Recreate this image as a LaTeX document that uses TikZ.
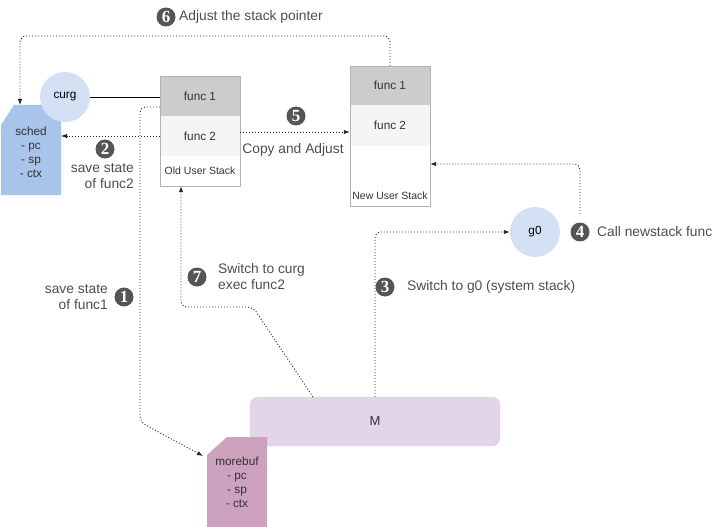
\documentclass[tikz,border=0pt]{standalone}
\usepackage{fontspec}
\setmainfont{Liberation Sans}
\newfontfamily\numfont{Liberation Serif}
\usetikzlibrary{arrows.meta}
\definecolor{schedfill}{HTML}{A9C4EB}
\definecolor{curgfill}{HTML}{D4E1F5}
\definecolor{mfill}{HTML}{E1D5E7}
\definecolor{morefill}{HTML}{CDA2BE}
\definecolor{numfill}{HTML}{555555}
\definecolor{lbl}{HTML}{4D4D4D}
\definecolor{dark}{HTML}{333333}
\definecolor{stk}{HTML}{B3B3B3}
\definecolor{rowa}{HTML}{CCCCCC}
\definecolor{rowb}{HTML}{F5F5F5}
\begin{document}
\begin{tikzpicture}[x=1pt,y=-1pt,
  conn/.style={draw=black!85, dash pattern=on 1pt off 2pt, line width=0.9pt, rounded corners=6pt, -{Latex[length=6pt,width=4.5pt]}},
  num/.style={circle, fill=numfill, text=white, inner sep=0pt, minimum size=19pt, font=\numfont\bfseries\fontsize{17}{17}\selectfont},
  lab/.style={text=lbl, font=\fontsize{13.8}{16}\selectfont, inner sep=0pt},
  row/.style={minimum width=80pt, minimum height=40pt, inner sep=0pt, text=dark, font=\fontsize{11.8}{13}\selectfont},
  circ/.style={circle, fill=curgfill, minimum size=50pt, inner sep=0pt, text=black, font=\fontsize{11.8}{13}\selectfont},
  cardtxt/.style={align=center, text=dark, font=\fontsize{11.8}{14}\selectfont, inner sep=0pt},
  small/.style={text=dark, font=\fontsize{10.5}{12}\selectfont, inner sep=0pt}
]
\useasboundingbox (0,0) rectangle (716,527);

% sched card
\fill[schedfill] (1,125) -- (14,105) -- (61,105) -- (61,195) -- (1,195) -- cycle;
\node[cardtxt] (sched) at (31,152) {sched\\- pc\\- sp\\- ctx};
\coordinate (schedtop) at (20,105);
\coordinate (schedeast) at (61,136);

% curg
\node[circ] (curg) at (65,97) {curg};

% old user stack
\node[row, fill=rowa] (oldf1) at (200,96) {func 1};
\node[row, fill=rowb] (oldf2) at (200,136) {func 2};
\node[row, minimum height=30pt] (oldlbl) at (200,171) {};
\node[small] (oldtxt) at (200,171) {Old User Stack};
\draw[stk] (oldf1.north west) rectangle (oldlbl.south east);

% new user stack
\node[row, fill=rowa, minimum height=39pt] (newf1) at (390,85.5) {func 1};
\node[row, fill=rowb, minimum height=41pt] (newf2) at (390,125.5) {func 2};
\node[row, minimum height=60pt] (newrest) at (390,176) {};
\node[small] (newlbl) at (390,196) {New User Stack};
\draw[stk] (newf1.north west) rectangle (newrest.south east);

% g0
\node[circ] (g0) at (535,232) {g0};

% M
\node[fill=mfill, draw=mfill!90!black!60, rounded corners=8pt, minimum width=250pt, minimum height=49pt, inner sep=0pt, text=dark, font=\fontsize{13}{15}\selectfont] (M) at (375,421.5) {M};

% morebuf card
\fill[morefill] (207,455) -- (227,437) -- (267,437) -- (267,527) -- (207,527) -- cycle;
\node[cardtxt] (morebuf) at (237,482) {morebuf\\- pc\\- sp\\- ctx};
\coordinate (moretop) at (203,456);

% solid link curg - func1
\draw[black, line width=0.8pt] (curg.east) -- (oldf1.west |- curg.east);

% arrow 1
\draw[conn] (oldf1.west |- 0,107) -- (140,107) -- (140,422) -- (moretop);
% arrow 2
\draw[conn] (oldf2.west) -- (schedeast);
% arrow 3
\draw[conn] (M.north -| 375,0) -- (375,232) -- (g0.west);
% arrow 4
\coordinate (c4) at (580,214);
\draw[conn] (c4) -- (580,164) -- (newrest.east |- 0,164);
% arrow 5
\draw[conn] (oldf2.east |- 0,132) -- (newf2.west |- 0,132);
% arrow 6
\draw[conn] (newf1.north) -- (390,36) -- (20,36) -- (schedtop);
% arrow 7
\draw[conn] (313,397) -- (253,307) -- (181,307) -- (oldlbl.south -| 181,0);

% labels
\node[num] (n6) at (166,17) {6};
\node[lab, anchor=west] (t6) at (179,17) {Adjust the stack pointer};
\node[num] (n5) at (296,116) {5};
\node[lab] (t5) at (293,150) {Copy and Adjust};
\node[num] (n2) at (105,149) {2};
\node[lab, align=right, anchor=east] (t2) at (134,176.5) {save state\\of func2};
\node[num] (n1) at (124,297) {1};
\node[lab, align=right, anchor=east] (t1) at (108,297.5) {save state\\of func1};
\node[num] (n7) at (197,277) {7};
\node[lab, align=left, anchor=west] (t7) at (218,277) {Switch to curg\\exec func2};
\node[num] (n3) at (385,287) {3};
\node[lab, anchor=west] (t3) at (407,287) {Switch to g0 (system stack)};
\node[num] (n4) at (580,232) {4};
\node[lab, anchor=west] (t4) at (597,232) {Call newstack func};
\end{tikzpicture}
\end{document}
